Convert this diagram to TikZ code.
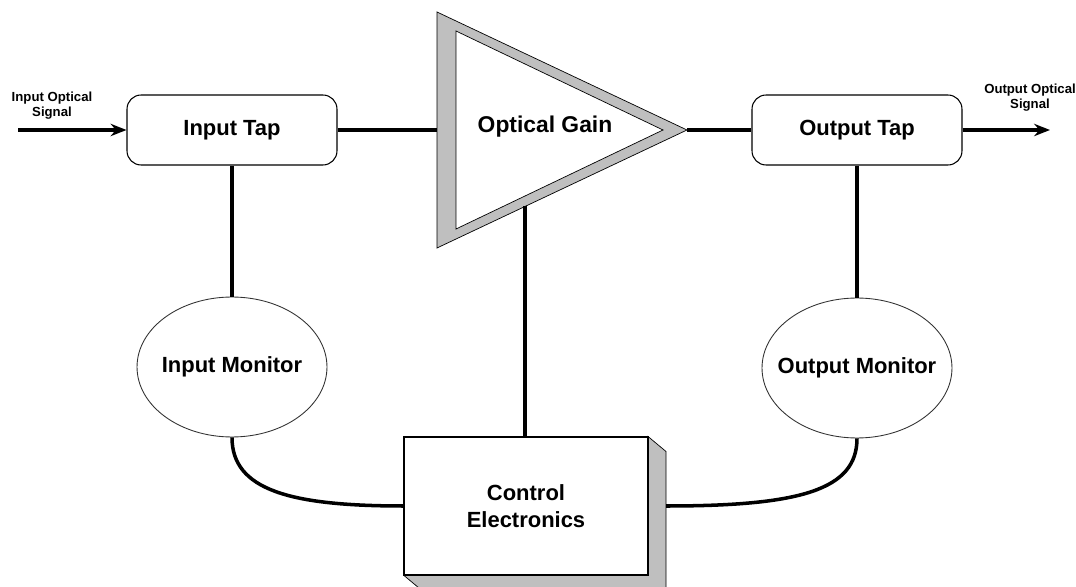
\documentclass[tikz,border=0pt]{standalone}
\usepackage{fontspec}
\setmainfont{Liberation Sans}
\usetikzlibrary{shapes.geometric,arrows.meta,calc}

\begin{document}
\begin{tikzpicture}[x=0.02cm,y=-0.02cm]
  \tikzset{
    tapbox/.style={draw,rounded corners=8pt,line width=0.6pt,minimum width=4.2cm,minimum height=1.4cm,font=\bfseries\fontsize{12.5}{15}\selectfont},
    monitor/.style={ellipse,draw=black!80,line width=0.5pt,inner sep=0pt,inner xsep=-2pt,minimum width=3.8cm,minimum height=2.8cm,font=\bfseries\fontsize{12.5}{15}\selectfont},
    ctrlbox/.style={draw,fill=white,line width=0.6pt,minimum width=4.86cm,minimum height=2.76cm,align=center,font=\bfseries\fontsize{12.5}{15}\selectfont},
    wire/.style={line width=2pt},
    siglabel/.style={font=\bfseries\fontsize{7.5}{8.5}\selectfont,align=center},
    hatch/.style={fill=gray!50,draw=black,line width=0.4pt}
  }
  \useasboundingbox (0,0) rectangle (1076,587);

  \coordinate (go1) at (437,12);
  \coordinate (go2) at (437,248);
  \coordinate (go3) at (687,130);
  \coordinate (gi1) at (456,31);
  \coordinate (gi2) at (456,229);
  \coordinate (gi3) at (663,130);
  \filldraw[hatch] (go1) -- (go3) -- (go2) -- cycle;
  \filldraw[fill=white,draw=black,line width=0.4pt] (gi1) -- (gi3) -- (gi2) -- cycle;
  \node[font=\bfseries\fontsize{13}{15}\selectfont] (gain) at (545,127) {Optical Gain};
  \coordinate (gbot) at ($(go2)!0.352!(go3)$);

  \node[tapbox] (itap) at (232,130) {Input Tap};
  \node[tapbox] (otap) at (857,130) {Output Tap};
  \node[monitor] (imon) at (232,367) {Input Monitor};
  \node[monitor,inner xsep=-8pt] (omon) at (857,368) {Output Monitor};

  \node[ctrlbox] (ctrl) at (526,506) {Control\\Electronics};
  \filldraw[hatch] (ctrl.north east) -- ++(18,15) -- ++(0,138) -- ($(ctrl.south west)+(18,15)$) -- (ctrl.south west) -- (ctrl.south east) -- cycle;
  \draw[line width=0.6pt] (ctrl.north west) rectangle (ctrl.south east);

  \coordinate (insrc) at (18,130);
  \coordinate (outdst) at (1050,130);
  \node[siglabel] (inlbl) at (52,106) {Input Optical\\Signal};
  \node[siglabel] (outlbl) at (1030,98) {Output Optical\\Signal};

  \draw[wire,-{Stealth[length=9pt,width=7pt]}] (insrc) -- (itap.west);
  \draw[wire,-{Stealth[length=9pt,width=7pt]}] (otap.east) -- (outdst);
  \draw[wire] (itap.east) -- (itap.east -| go1);
  \draw[wire] (go3) -- (otap.west);
  \draw[wire] (itap.south) -- (imon.north);
  \draw[wire] (otap.south) -- (omon.north);
  \draw[wire] (gbot) -- (gbot |- ctrl.north);
  \draw[wire] (imon.south) .. controls (232,490) and (290,506) .. (ctrl.west);
  \draw[wire] (omon.south) .. controls (857,490) and (800,506) .. ($(ctrl.east)+(18,0)$);
\end{tikzpicture}
\end{document}
